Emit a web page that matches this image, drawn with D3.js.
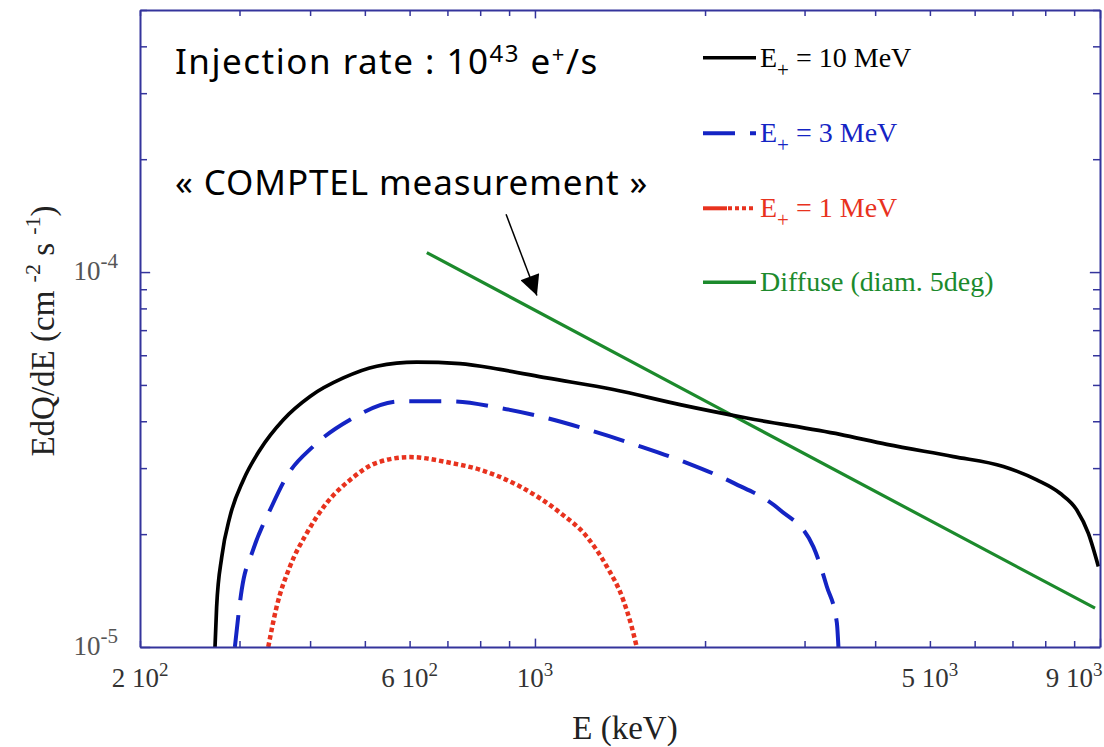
<!DOCTYPE html>
<html>
<head>
<meta charset="utf-8">
<script src="https://d3js.org/d3.v7.min.js"></script>
<style>
  body { margin: 0; background: #fff; }
  text { font-family: "Liberation Serif", "Times New Roman", serif; }
  .note { font-family: "Comic Sans MS", "Noto Sans", sans-serif; }
</style>
</head>
<body>
<script>

// E+ = 10 MeV (keV, cm-2 s-1)
var energy10 = [271.5, 273.3, 279.1, 288.6, 304.8, 326.2, 358.7, 399.9, 458, 524.8, 617.6, 736.6, 867.6,
                1049, 1376, 1806, 2370, 3467, 4194, 5502, 6745, 7729, 8497, 9098, 9537, 9934];
var flux10 = [1.0e-5, 1.28e-5, 1.74e-5, 2.23e-5, 2.79e-5, 3.36e-5, 4.04e-5, 4.66e-5, 5.22e-5, 5.61e-5, 5.75e-5, 5.70e-5, 5.50e-5,
              5.22e-5, 4.86e-5, 4.43e-5, 4.08e-5, 3.69e-5, 3.47e-5, 3.22e-5, 3.03e-5, 2.79e-5, 2.57e-5, 2.32e-5, 2.01e-5, 1.64e-5];

// E+ = 3 MeV
var energy3 = [294.4, 302.7, 317.3, 342, 363.6, 405.3, 470.7, 577, 707.3, 867.6, 1049, 1269, 1535, 1856, 2245,
               2715, 3110, 3285, 3422, 3444];
var flux3 = [1.0e-5, 1.42e-5, 1.82e-5, 2.37e-5, 2.85e-5, 3.43e-5, 4.04e-5, 4.52e-5, 4.52e-5, 4.34e-5, 4.08e-5, 3.76e-5, 3.43e-5, 3.10e-5, 2.74e-5,
             2.32e-5, 1.85e-5, 1.45e-5, 1.16e-5, 1.0e-5];

// E+ = 1 MeV
var energy1 = [337.3, 349, 368.5, 394.5, 427.9, 470.7, 524.8, 601, 707.3, 799.5, 941, 1108, 1235, 1340, 1433, 1483, 1514];
var flux1 = [1.0e-5, 1.28e-5, 1.64e-5, 2.01e-5, 2.42e-5, 2.79e-5, 3.10e-5, 3.21e-5, 3.10e-5, 2.97e-5, 2.68e-5, 2.28e-5, 1.97e-5, 1.64e-5, 1.335e-5, 1.133e-5, 1.0e-5];

// diffuse emission (diam. 5deg)
var energyDiffuse = [643.6, 2214, 9799];
var fluxDiffuse = [1.127e-4, 4.18e-5, 1.269e-5];

// tick labels
var xTickValues = [200, 600, 1000, 5000, 9000];
var xTickBase = ["2 10", "6 10", "10", "5 10", "9 10"];
var xTickExp = ["2", "2", "3", "3", "3"];
var yTickValues = [1e-5, 1e-4];
var yTickExp = ["-5", "-4"];

var legendNames = ["10 MeV", "3 MeV", "1 MeV", "Diffuse (diam. 5deg)"];
var legendColors = ["#000000", "#1424c4", "#e8321e", "#1c8a2c"];

// arrow of the COMPTEL note, in data units
var arrowFrom = [889, 1.426e-4];
var arrowTo = [1008, 8.66e-5];

var w = 1104, h = 747;
var plotLeft = 140, plotRight = 1100, plotTop = 10, plotBottom = 647;
var axisColor = "#34349c";

var svg = d3.select("body").append("svg")
  .attr("width", w)
  .attr("height", h);

var x = d3.scaleLog().domain([200, 10000]).range([plotLeft, plotRight]);
var y = d3.scaleLog().domain([1e-5, 5e-4]).range([plotBottom, plotTop]);

svg.append("clipPath").attr("id", "plot")
  .append("rect")
  .attr("x", plotLeft).attr("y", plotTop)
  .attr("width", plotRight - plotLeft).attr("height", plotBottom - plotTop);

// curves
var line = d3.line()
  .x(function(d) { return x(d[0]); })
  .y(function(d) { return y(d[1]); })
  .curve(d3.curveMonotoneX);

function pairs(a, b) {
  return a.map(function(v, i) { return [v, b[i]]; });
}

var g = svg.append("g").attr("clip-path", "url(#plot)");

g.append("path")
  .attr("d", line(pairs(energyDiffuse, fluxDiffuse)))
  .attr("fill", "none")
  .attr("stroke", legendColors[3])
  .attr("stroke-width", 3.2);

g.append("path")
  .attr("d", line(pairs(energy1, flux1)))
  .attr("fill", "none")
  .attr("stroke", legendColors[2])
  .attr("stroke-width", 4.5)
  .attr("stroke-dasharray", "4.5,3");

g.append("path")
  .attr("d", line(pairs(energy3, flux3)))
  .attr("fill", "none")
  .attr("stroke", legendColors[1])
  .attr("stroke-width", 4)
  .attr("stroke-dasharray", "32,15");

g.append("path")
  .attr("d", line(pairs(energy10, flux10)))
  .attr("fill", "none")
  .attr("stroke", legendColors[0])
  .attr("stroke-width", 3.7);

// axes, ticks inward on all four sides
var xMajor = function(d) { return d === 1000 || d === 10000; };
var yMajor = function(d) { return Math.abs(Math.log10(d) - Math.round(Math.log10(d))) < 1e-6; };

var xAxisB = d3.axisBottom(x).tickFormat("").tickSizeOuter(0).tickSizeInner(-6);
var xAxisT = d3.axisTop(x).tickFormat("").tickSizeOuter(0).tickSizeInner(-6);
var yAxisL = d3.axisLeft(y).tickFormat("").tickSizeOuter(0).tickSizeInner(-7);
var yAxisR = d3.axisRight(y).tickFormat("").tickSizeOuter(0).tickSizeInner(-7);

[[xAxisB, "translate(0," + plotBottom + ")", "x"], [xAxisT, "translate(0," + plotTop + ")", "x"],
 [yAxisL, "translate(" + plotLeft + ",0)", "y"], [yAxisR, "translate(" + plotRight + ",0)", "y"]].forEach(function(a) {
  var ax = svg.append("g").attr("transform", a[1]).call(a[0]);
  ax.select(".domain").attr("stroke", axisColor).attr("stroke-width", 2);
  ax.selectAll(".tick line")
    .attr("stroke", axisColor)
    .attr("stroke-width", 1.5)
    .each(function(d) {
      var el = d3.select(this);
      if (a[2] === "x" && xMajor(d)) el.attr("y2", +el.attr("y2") * 1.4);
      if (a[2] === "y" && yMajor(d)) el.attr("x2", +el.attr("x2") * 1.45);
    });
});

// x tick labels
var xl = svg.append("g").selectAll("text")
  .data(xTickValues)
  .enter()
  .append("text")
  .attr("x", function(d) { return x(d); })
  .attr("y", 687)
  .attr("text-anchor", "middle")
  .attr("font-size", 27)
  .attr("fill", "#333");
xl.append("tspan").text(function(d, i) { return xTickBase[i]; });
xl.append("tspan").attr("dy", -11).attr("font-size", 19).text(function(d, i) { return xTickExp[i]; });

// y tick labels
var yl = svg.append("g").selectAll("text")
  .data(yTickValues)
  .enter()
  .append("text")
  .attr("x", 118)
  .attr("y", function(d) { return y(d) + 8; })
  .attr("text-anchor", "end")
  .attr("font-size", 27)
  .attr("fill", "#555");
yl.append("tspan").text("10");
yl.append("tspan").attr("dy", -12).attr("font-size", 21).text(function(d, i) { return yTickExp[i]; });

// axis titles
svg.append("text")
  .attr("x", 625)
  .attr("y", 739)
  .attr("text-anchor", "middle")
  .attr("font-size", 33)
  .attr("fill", "#222")
  .text("E (keV)");

var yt = svg.append("text")
  .attr("transform", "translate(54,331) rotate(-90)")
  .attr("text-anchor", "middle")
  .attr("font-size", 33)
  .attr("fill", "#222");
yt.append("tspan").text("EdQ/dE (cm ");
yt.append("tspan").attr("dy", -14).attr("font-size", 22).text("-2");
yt.append("tspan").attr("dy", 14).text(" s ");
yt.append("tspan").attr("dy", -14).attr("font-size", 22).text("-1");
yt.append("tspan").attr("dy", 14).text(")");

// legend
var legendRows = [57.7, 133.3, 208.3, 282.3];
legendNames.forEach(function(name, i) {
  var ly = legendRows[i];
  if (i === 2) {
    svg.append("line").attr("x1", 703).attr("x2", 727).attr("y1", ly).attr("y2", ly)
      .attr("stroke", legendColors[i]).attr("stroke-width", 4);
    svg.append("line").attr("x1", 728).attr("x2", 756).attr("y1", ly).attr("y2", ly)
      .attr("stroke", legendColors[i]).attr("stroke-width", 4).attr("stroke-dasharray", "4,3");
  } else {
    svg.append("line").attr("x1", 703).attr("x2", 756).attr("y1", ly).attr("y2", ly)
      .attr("stroke", legendColors[i]).attr("stroke-width", i === 1 ? 4 : 3.5)
      .attr("stroke-dasharray", i === 1 ? "32,15" : null);
  }
  var t = svg.append("text")
    .attr("x", 760)
    .attr("y", ly + 9)
    .attr("font-size", 28)
    .attr("fill", legendColors[i]);
  if (i < 3) {
    t.append("tspan").text("E");
    t.append("tspan").attr("dy", 10).attr("font-size", 21).text("+");
    t.append("tspan").attr("dy", -10).text(" = " + name);
  } else {
    t.text(name);
  }
});

// notes
var n1 = svg.append("text")
  .attr("class", "note")
  .attr("x", 175)
  .attr("y", 74)
  .attr("font-size", 35)
  .attr("letter-spacing", 1.5)
  .attr("fill", "#000");
n1.append("tspan").text("Injection rate : 10");
n1.append("tspan").attr("dy", -12).attr("font-size", 24).text("43");
n1.append("tspan").attr("dy", 12).text(" e");
n1.append("tspan").attr("dy", -12).attr("font-size", 22).text("+");
n1.append("tspan").attr("dy", 12).text("/s");

svg.append("text")
  .attr("class", "note")
  .attr("x", 175)
  .attr("y", 195)
  .attr("font-size", 35)
  .attr("letter-spacing", 0.9)
  .attr("fill", "#000")
  .text("\u00ab COMPTEL measurement \u00bb");

svg.append("defs").append("marker")
  .attr("id", "head")
  .attr("viewBox", "0 0 10 10")
  .attr("refX", 10).attr("refY", 5)
  .attr("markerWidth", 22).attr("markerHeight", 20)
  .attr("markerUnits", "userSpaceOnUse")
  .attr("orient", "auto")
  .append("path")
  .attr("d", "M0,0 L10,5 L0,10 Z")
  .attr("fill", "#000");

svg.append("line")
  .attr("x1", x(arrowFrom[0])).attr("y1", y(arrowFrom[1]))
  .attr("x2", x(arrowTo[0])).attr("y2", y(arrowTo[1]))
  .attr("stroke", "#000")
  .attr("stroke-width", 1.5)
  .attr("marker-end", "url(#head)");

</script>
</body>
</html>
